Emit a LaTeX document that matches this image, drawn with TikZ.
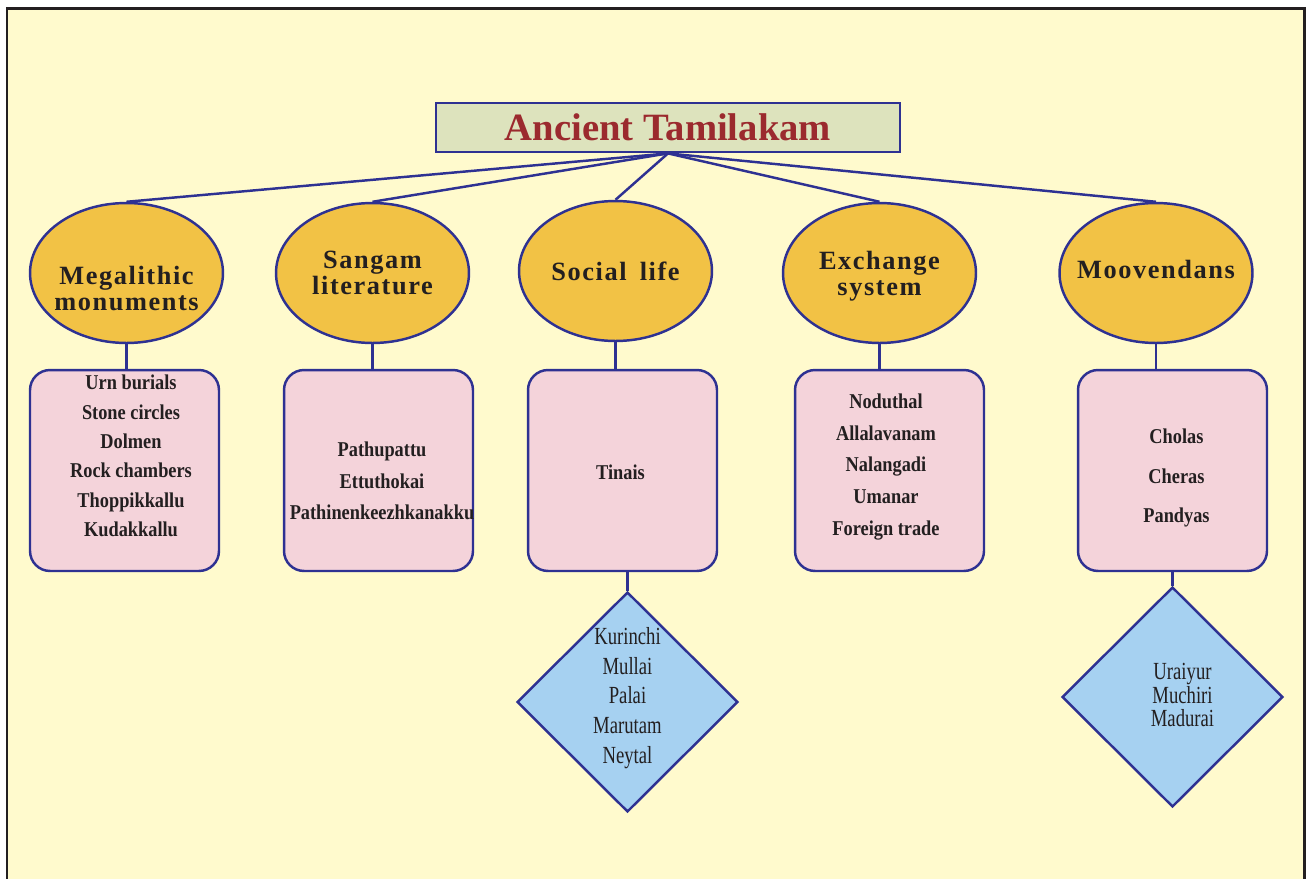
\documentclass[tikz,border=0pt]{standalone}
\usepackage{fontspec}
\setmainfont{Liberation Serif}
\newfontfamily\topicfont[LetterSpace=6]{Liberation Serif}
\newfontfamily\listfont[FakeStretch=0.87]{Liberation Serif}
\newfontfamily\placefont[FakeStretch=0.76]{Liberation Serif}
\usetikzlibrary{shapes.geometric}
\definecolor{page}{HTML}{FFFACD}
\definecolor{framegray}{HTML}{231F20}
\definecolor{ink}{HTML}{231F20}
\definecolor{linkblue}{HTML}{2E3192}
\definecolor{titlefill}{HTML}{DDE3BD}
\definecolor{titlered}{HTML}{9B2A2E}
\definecolor{topicfill}{HTML}{F2C245}
\definecolor{listfill}{HTML}{F4D3DA}
\definecolor{placefill}{HTML}{A6D1F1}
\tikzset{
  every node/.style={text=ink},
  link/.style={draw=linkblue,line width=1.4pt},
  titlebox/.style={draw=linkblue,line width=1.6pt,fill=titlefill,minimum width=9.28cm,minimum height=0.98cm,inner sep=0pt,font=\fontsize{22}{24}\selectfont\bfseries,text=titlered},
  topic/.style={ellipse,draw=linkblue,line width=1.4pt,fill=topicfill,minimum width=3.86cm,minimum height=2.8cm,inner sep=0pt},
  topictext/.style={align=center,inner sep=0pt,font=\topicfont\bfseries\fontsize{15}{14.8}\selectfont},
  listbox/.style={rectangle,rounded corners=0.4cm,draw=linkblue,line width=1.4pt,fill=listfill,minimum width=3.78cm,minimum height=4.02cm},
  listtext/.style={align=center,inner sep=0pt,font=\listfont\bfseries\fontsize{12}{#1}\selectfont},
  listtext/.default=16.7pt,
  placebox/.style={diamond,draw=linkblue,line width=1.4pt,fill=placefill,minimum width=4.42cm,minimum height=4.4cm,inner sep=0pt},
  placetext/.style={align=center,inner sep=0pt,font=\placefont\fontsize{14}{#1}\selectfont},
}

\begin{document}
\begin{tikzpicture}[x=0.02cm,y=-0.02cm]

\useasboundingbox (0,0) rectangle (1309,879);
\begin{scope}
\clip (0,0) rectangle (1309,879);
\draw[framegray,line width=1.7pt,fill=page] (7,8.5) rectangle (1304,900);
\end{scope}

\node[titlebox] (title) at (668,127.5) {Ancient Tamilakam};

\node[topic,label={[topictext,yshift=-0.32cm]center:Megalithic\\monuments}] (meg) at (126.5,273) {};
\node[topic,label={[topictext]center:Sangam\\literature}] (sang) at (372.5,273) {};
\node[topic,label={[topictext]center:Social\enspace life}] (soc) at (615.5,271) {};
\node[topic,label={[topictext,yshift=-0.07cm]center:Exchange\\system}] (exch) at (879.5,273) {};
\node[topic,label={[topictext,yshift=0.08cm]center:Moovendans}] (moov) at (1156,273) {};

\foreach \t in {meg,sang,soc,exch,moov}
  \draw[link] (title.south) -- (\t.north);

\node[listbox,label={[listtext,xshift=0.13cm,yshift=0.29cm]center:Urn burials\\Stone circles\\Dolmen\\Rock chambers\\Thoppikkallu\\Kudakkallu}] (megitems) at (124.5,470.5) {};
\node[listbox,label={[listtext=17.9pt,xshift=0.07cm,yshift=-0.21cm]center:Pathupattu\\Ettuthokai\\Pathinenkeezhkanakku}] (sangitems) at (378.5,470.5) {};
\node[listbox,label={[listtext,xshift=-0.04cm,yshift=-0.03cm]center:Tinais}] (socitems) at (622.5,470.5) {};
\node[listbox,label={[listtext=18.1pt,xshift=-0.07cm,yshift=0.07cm]center:Noduthal\\Allalavanam\\Nalangadi\\Umanar\\Foreign trade}] (exchitems) at (889.5,470.5) {};
\node[listbox,label={[listtext=22.7pt,xshift=0.08cm,yshift=-0.15cm]center:Cholas\\Cheras\\Pandyas}] (moovitems) at (1172.5,470.5) {};

\foreach \t in {meg,sang,soc,exch,moov}
  \draw[link] (\t.south) -- (\t.south |- \t items.north);

\node[placebox,label={[placetext=16.9pt,yshift=0.08cm]center:Kurinchi\\Mullai\\Palai\\Marutam\\Neytal}] (tinai) at (627.5,702) {};
\node[placebox,label={[placetext=13.6pt,xshift=0.2cm,yshift=0.04cm]center:Uraiyur\\Muchiri\\Madurai}] (capitals) at (1172.5,697) {};

\draw[link] (socitems.south -| tinai.north) -- (tinai.north);
\draw[link] (moovitems.south -| capitals.north) -- (capitals.north);

\end{tikzpicture}
\end{document}
